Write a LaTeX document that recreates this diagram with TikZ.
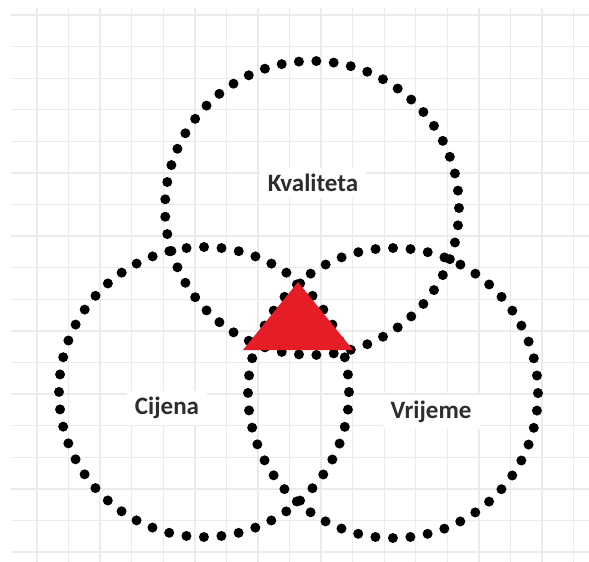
\documentclass[tikz,border=0pt]{standalone}
\usepackage{fontspec}
\setmainfont{Carlito}
\definecolor{trired}{RGB}{229,29,38}
\definecolor{lbltext}{RGB}{45,45,45}
\begin{document}
\begin{tikzpicture}[x=1pt,y=-1pt,
  gridline/.style={draw=black!8, line width=1.3pt},
  dotringA/.style={draw=black, line width=10pt, line cap=round, dash pattern=on 0pt off 17.43pt},
  dotringB/.style={draw=black, line width=10pt, line cap=round, dash pattern=on 0pt off 17.52pt},
  lbl/.style={fill=white, text=lbltext, font=\bfseries\fontsize{25}{29}\selectfont, inner xsep=8pt, inner ysep=6pt}]
\useasboundingbox (0,0) rectangle (589,562);
\fill[white] (0,0) rectangle (589,562);
% grid
\foreach \i in {0,...,17} { \draw[gridline] ({37+31.57*\i},8) -- ({37+31.57*\i},562); }
\foreach \j in {0,...,17} { \draw[gridline] (11,{15+31.59*\j}) -- (589,{15+31.59*\j}); }
% labels
\node[lbl] (kval) at (313,183) {Kvaliteta};
\node[lbl] (cij) at (167,408) {Cijena};
\node[lbl] (vrij) at (431,412) {Vrijeme};
% dotted circles
\draw[dotringA] (312,208) circle[radius=147pt];
\draw[dotringB] (204,392) circle[radius=145pt];
\draw[dotringB] (393,393) circle[radius=145pt];
% triangle
\coordinate (tA) at (298,282);
\coordinate (tL) at (243,350);
\coordinate (tR) at (353,350);
\fill[trired] (tA) -- (tL) -- (tR) -- cycle;
\end{tikzpicture}
\end{document}
